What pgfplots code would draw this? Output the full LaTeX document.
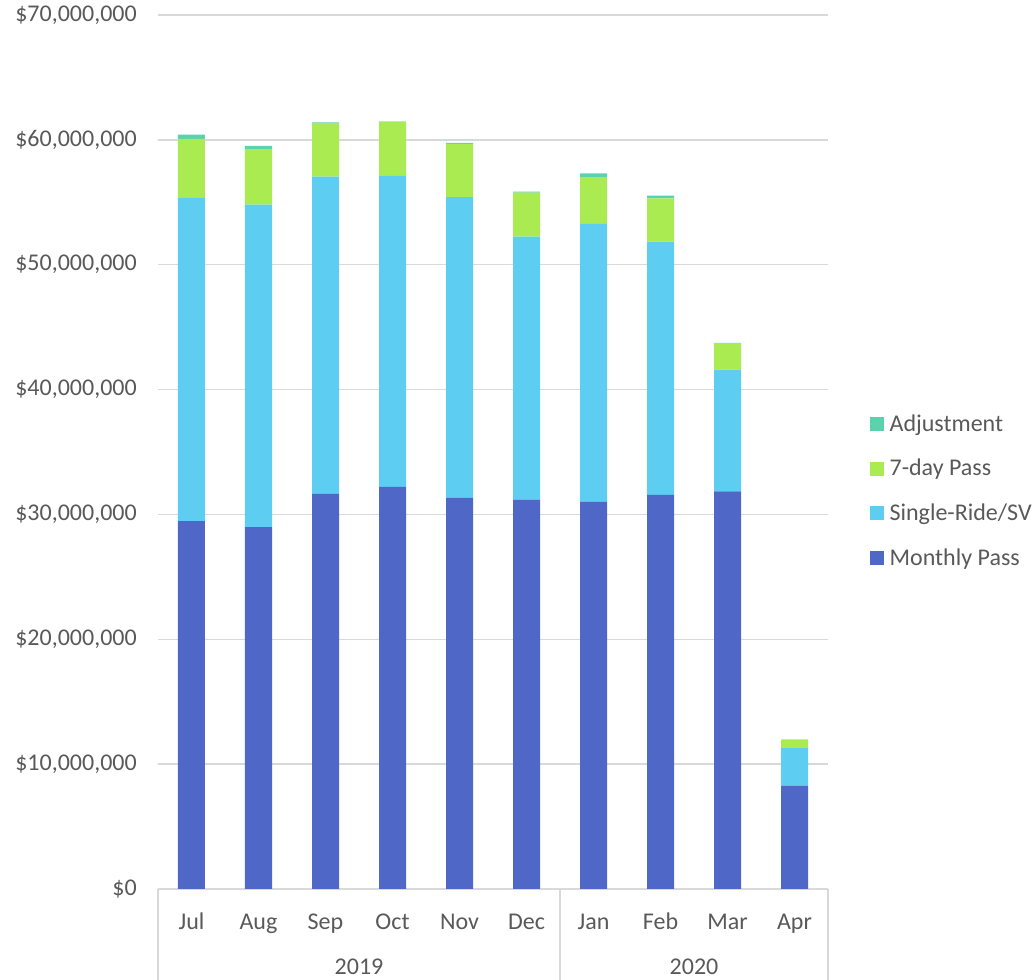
\documentclass[border=0pt]{standalone}
\usepackage{pgfplots}
\usepackage{pgfplotstable}
\pgfplotsset{compat=1.18}
\usepackage{fontspec}
\setmainfont{Carlito}
\definecolor{cMon}{HTML}{4F68C8}
\definecolor{cSgl}{HTML}{5DCDF2}
\definecolor{cSev}{HTML}{AAEB52}
\definecolor{cAdj}{HTML}{5BD2AE}
\definecolor{cGrid}{HTML}{D9D9D9}
\definecolor{cTxt}{HTML}{595959}
\pgfplotstableread{
x mon single seven adj
0 29.47 25.93 4.67 0.34
1 28.99 25.82 4.40 0.30
2 31.64 25.41 4.24 0.11
3 32.20 24.96 4.29 0.03
4 31.32 24.10 4.25 0.08
5 31.16 21.08 3.53 0.08
6 31.00 22.28 3.74 0.30
7 31.56 20.28 3.48 0.21
8 31.85 9.74 2.12 0.02
9 8.27 3.02 0.70 0.00
}\data
\begin{document}
\begin{tikzpicture}
\useasboundingbox (-118.5pt,-68.25pt) rectangle (657.75pt,666.75pt);
\begin{axis}[
  at={(0,0)}, anchor=south west, scale only axis,
  width=502.5pt, height=655.5pt,
  ybar stacked, bar width=20.25pt,
  xmin=-0.5, xmax=9.5, ymin=0, ymax=70,
  clip=false,
  xtick={0,...,9},
  xticklabels={Jul,Aug,Sep,Oct,Nov,Dec,Jan,Feb,Mar,Apr},
  ytick={0,10,20,30,40,50,60,70},
  yticklabels={{\$0},{\$10,000,000},{\$20,000,000},{\$30,000,000},{\$40,000,000},{\$50,000,000},{\$60,000,000},{\$70,000,000}},
  /pgf/number format/assume math mode=true,
  major tick length=0pt,
  axis x line*=bottom, axis y line*=left,
  y axis line style={draw=none},
  x axis line style={draw=cGrid, line width=1pt},
  ymajorgrids, grid style={cGrid, line width=1pt},
  tick label style={font=\fontsize{18}{21}\selectfont, text=cTxt},
  xticklabel style={anchor=base, yshift=-30.75pt},
  yticklabel style={anchor=east, inner sep=0pt, xshift=-15.75pt},
  legend image code/.code={\draw[#1, draw=none] (0pt,-5.25pt) rectangle (10.5pt,5.25pt);},
  reverse legend,
  legend cell align=left,
  legend style={draw=none, fill=none, at={(1.0627,0.4554)}, anchor=west,
    font=\fontsize{18}{21}\selectfont, text=cTxt, row sep=15.5pt, inner sep=0pt,
    /tikz/every odd column/.append style={column sep=2pt}},
]
\addplot[fill=cMon, draw=none] table[x=x, y=mon] {\data};
\addplot[fill=cSgl, draw=none] table[x=x, y=single] {\data};
\addplot[fill=cSev, draw=none] table[x=x, y=seven] {\data};
\addplot[fill=cAdj, draw=none] table[x=x, y=adj] {\data};
\legend{Monthly Pass, Single-Ride/SV, 7-day Pass, Adjustment}
\draw[cGrid, line width=1pt] (axis cs:-0.5,0) -- ++(0pt,-68.25pt);
\draw[cGrid, line width=1pt] (axis cs:5.5,0) -- ++(0pt,-68.25pt);
\draw[cGrid, line width=1pt] (axis cs:9.5,0) -- ++(0pt,-68.25pt);
\node[anchor=base, yshift=-64.5pt, font=\fontsize{18}{21}\selectfont, text=cTxt] at (axis cs:2.5,0) {2019};
\node[anchor=base, yshift=-64.5pt, font=\fontsize{18}{21}\selectfont, text=cTxt] at (axis cs:7.5,0) {2020};
\end{axis}
\end{tikzpicture}
\end{document}
